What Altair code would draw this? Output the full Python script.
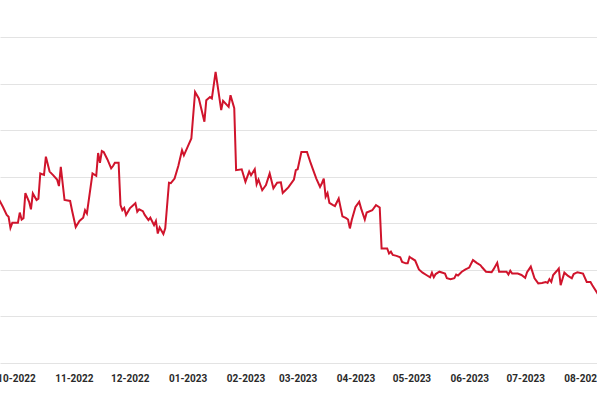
import altair as alt
import pandas as pd

dates = [
    "2022-09-22", "2022-09-24", "2022-09-26", "2022-09-27", "2022-09-28", "2022-09-29",
    "2022-10-02", "2022-10-03", "2022-10-04", "2022-10-05", "2022-10-06", "2022-10-08",
    "2022-10-09", "2022-10-10", "2022-10-12", "2022-10-13", "2022-10-14", "2022-10-16",
    "2022-10-17", "2022-10-19", "2022-10-21", "2022-10-23", "2022-10-24", "2022-10-25",
    "2022-10-27", "2022-10-30", "2022-10-31", "2022-11-02", "2022-11-04", "2022-11-06",
    "2022-11-07", "2022-11-08", "2022-11-11", "2022-11-13", "2022-11-14", "2022-11-15",
    "2022-11-16", "2022-11-17", "2022-11-19", "2022-11-21", "2022-11-22", "2022-11-23",
    "2022-11-25", "2022-11-26", "2022-11-27", "2022-11-28", "2022-11-29", "2022-12-01",
    "2022-12-04", "2022-12-05", "2022-12-06", "2022-12-08", "2022-12-09", "2022-12-11",
    "2022-12-12", "2022-12-14", "2022-12-15", "2022-12-16", "2022-12-17", "2022-12-18",
    "2022-12-19", "2022-12-20", "2022-12-22", "2022-12-23", "2022-12-25", "2022-12-27",
    "2022-12-29", "2022-12-30", "2023-01-01", "2023-01-03", "2023-01-05", "2023-01-07",
    "2023-01-10", "2023-01-11", "2023-01-13", "2023-01-14", "2023-01-16", "2023-01-19",
    "2023-01-20", "2023-01-23", "2023-01-24", "2023-01-26", "2023-01-27", "2023-01-30",
    "2023-02-01", "2023-02-03", "2023-02-04", "2023-02-06", "2023-02-07", "2023-02-08",
    "2023-02-10", "2023-02-12", "2023-02-14", "2023-02-16", "2023-02-18", "2023-02-20",
    "2023-02-21", "2023-02-23", "2023-02-24", "2023-02-27", "2023-02-28", "2023-03-01",
    "2023-03-03", "2023-03-06", "2023-03-08", "2023-03-09", "2023-03-11", "2023-03-13",
    "2023-03-14", "2023-03-15", "2023-03-16", "2023-03-17", "2023-03-18", "2023-03-20",
    "2023-03-21", "2023-03-23", "2023-03-25", "2023-03-27", "2023-03-28", "2023-03-29",
    "2023-03-30", "2023-04-01", "2023-04-03", "2023-04-04", "2023-04-06", "2023-04-07",
    "2023-04-10", "2023-04-12", "2023-04-14", "2023-04-15", "2023-04-18", "2023-04-19",
    "2023-04-20", "2023-04-21", "2023-04-23", "2023-04-25", "2023-04-26", "2023-04-28",
    "2023-04-29", "2023-04-30", "2023-05-01", "2023-05-03", "2023-05-05", "2023-05-07",
    "2023-05-09", "2023-05-11", "2023-05-12", "2023-05-13", "2023-05-14", "2023-05-16",
    "2023-05-19", "2023-05-20", "2023-05-22", "2023-05-24", "2023-05-25", "2023-05-26",
    "2023-05-28", "2023-05-30", "2023-06-01", "2023-06-03", "2023-06-05", "2023-06-07",
    "2023-06-08", "2023-06-10", "2023-06-13", "2023-06-14", "2023-06-16", "2023-06-17",
    "2023-06-21", "2023-06-22", "2023-06-23", "2023-06-24", "2023-06-27", "2023-06-29",
    "2023-07-01", "2023-07-02", "2023-07-04", "2023-07-06", "2023-07-08", "2023-07-10",
    "2023-07-12", "2023-07-13", "2023-07-14", "2023-07-15", "2023-07-16", "2023-07-18",
    "2023-07-19", "2023-07-20", "2023-07-22", "2023-07-24", "2023-07-26", "2023-07-27",
    "2023-07-29", "2023-08-01", "2023-08-03", "2023-08-05", "2023-08-06", "2023-08-09",
]

values = [
    35.0, 33.5, 31.8, 31.4, 29.0, 30.1,
    30.1, 32.3, 30.8, 31.1, 36.5, 34.6,
    33.0, 36.4, 35.0, 35.3, 40.7, 40.4,
    44.3, 41.1, 40.3, 39.4, 38.0, 42.1,
    35.0, 34.8, 32.8, 29.2, 30.5, 31.2,
    32.8, 32.1, 40.7, 40.2, 45.1, 43.0,
    45.5, 45.3, 43.7, 41.8, 42.3, 43.0,
    43.0, 33.9, 32.8, 33.3, 31.8, 33.2,
    34.3, 32.5, 33.0, 32.6, 31.8, 30.7,
    31.2, 29.6, 30.5, 27.8, 29.1, 28.4,
    27.7, 28.9, 38.7, 38.6, 39.6, 42.3,
    45.7, 44.6, 46.4, 48.2, 58.2, 56.8,
    51.8, 56.4, 57.1, 56.8, 62.5, 54.3,
    56.3, 55.0, 57.5, 54.7, 41.4, 41.6,
    38.9, 41.1, 40.3, 41.6, 38.4, 39.4,
    37.1, 38.2, 40.7, 37.5, 38.7, 38.8,
    36.5, 37.3, 37.7, 39.4, 41.4, 41.6,
    45.3, 45.3, 42.9, 41.8, 39.6, 37.8,
    38.6, 39.6, 35.7, 36.5, 34.4, 33.9,
    33.7, 35.3, 31.5, 31.1, 30.8, 28.9,
    30.7, 33.5, 34.6, 33.2, 30.8, 32.3,
    32.8, 33.9, 33.4, 24.6, 24.6, 23.5,
    23.9, 23.2, 23.0, 22.7, 21.7, 21.4,
    21.4, 22.8, 22.5, 22.0, 20.1, 19.4,
    18.9, 18.4, 19.4, 18.4, 19.1, 19.6,
    19.2, 18.2, 18.0, 18.2, 19.0, 18.8,
    19.6, 20.1, 20.5, 22.1, 21.5, 21.0,
    20.5, 19.6, 19.5, 20.1, 21.5, 19.6,
    19.6, 19.0, 19.8, 19.2, 19.2, 18.9,
    18.3, 19.5, 20.7, 18.2, 17.1, 17.2,
    17.4, 17.2, 18.0, 17.4, 18.9, 19.8,
    20.3, 16.7, 19.4, 18.7, 18.2, 19.1,
    19.5, 19.2, 17.4, 17.4, 16.7, 14.8,
]

tick_months = [(2022, 10), (2022, 11), (2022, 12), (2023, 1), (2023, 2), (2023, 3),
               (2023, 4), (2023, 5), (2023, 6), (2023, 7), (2023, 8)]

df = pd.DataFrame({"date": dates, "value": values})

FONT = "Roboto, sans-serif"

x_axis = alt.Axis(
    values=[alt.DateTime(year=y, month=m, date=1, utc=True) for y, m in tick_months],
    labelExpr="utcFormat(datum.value, '%m-%Y')",
    labelFont=FONT,
    labelFontSize=10,
    labelFontWeight="bold",
    labelColor="#2a2a2a",
    labelPadding=10,
    labelOverlap=False,
    labelFlush=False,
    ticks=False,
    domain=False,
    grid=False,
    title=None,
)

y_axis = alt.Axis(
    values=[0, 10, 20, 30, 40, 50, 60, 70],
    labels=False,
    ticks=False,
    domain=False,
    grid=True,
    gridColor="#e3e3e3",
    gridWidth=1,
    title=None,
)

chart = (
    alt.Chart(df)
    .mark_line(color="#d0142c", strokeWidth=2, clip=True)
    .encode(
        x=alt.X(
            "date:T",
            axis=x_axis,
            scale=alt.Scale(
                type="utc",
                domain=[
                    alt.DateTime(year=2022, month=9, date=22, hours=9, minutes=36, utc=True),
                    alt.DateTime(year=2023, month=8, date=8, hours=12, utc=True),
                ],
            ),
        ),
        y=alt.Y("value:Q", axis=y_axis, scale=alt.Scale(domain=[0, 70], nice=False, zero=True)),
    )
    .properties(
        width=597,
        height=326,
        autosize=alt.AutoSizeParams(type="none"),
        padding={"left": 0, "right": 0, "top": 37, "bottom": 35},
        background="white",
    )
    .configure_view(stroke=None)
)

chart.save("out.html", embed_options={"renderer": "svg", "actions": False})
